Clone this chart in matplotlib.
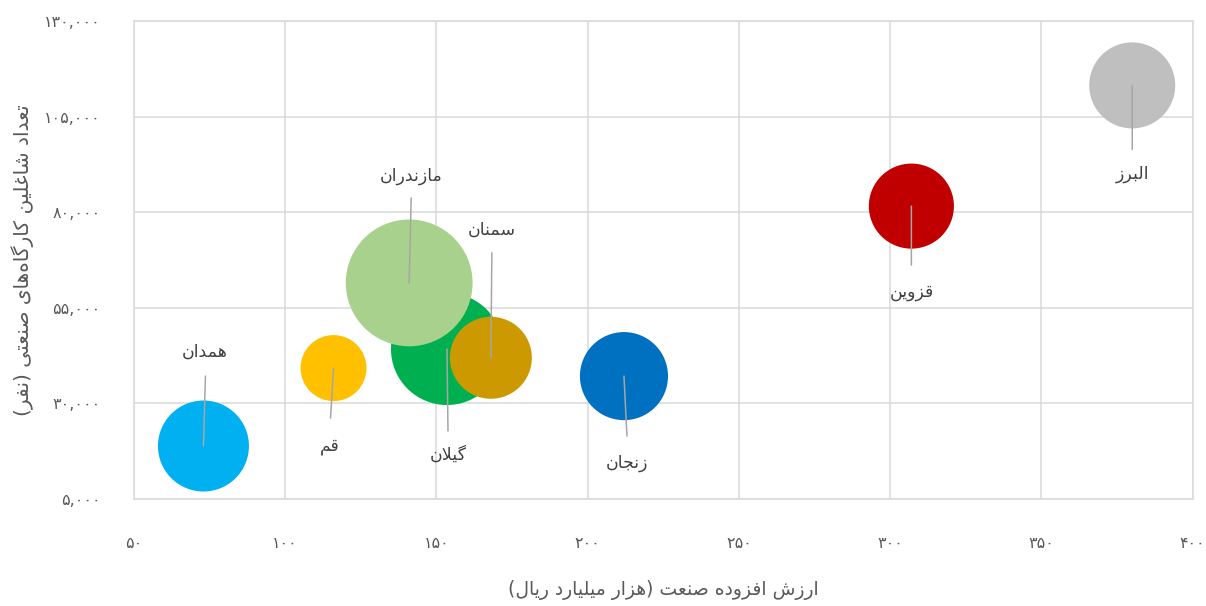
import matplotlib
matplotlib.use("Agg")
import matplotlib.pyplot as plt
from matplotlib.ticker import FuncFormatter, FixedLocator

plt.rcParams["font.family"] = ["DejaVu Sans"]

# ---- داده‌ها (خوانده شده از نمودار) ----
provinces = ["همدان", "قم", "گیلان", "مازندران", "سمنان", "زنجان", "قزوین", "البرز"]
value_added = [73, 116, 153.5, 141, 168, 212, 307, 380]          # هزار میلیارد ریال
employees = [18800, 39200, 44200, 61500, 41900, 37100, 81600, 113200]  # نفر
bubble_size = [2070, 1090, 3140, 4020, 1680, 1940, 1810, 1850]
colors = ["#00B0F0", "#FFC000", "#00B050", "#A9D18E", "#CC9900",
          "#0070C0", "#C00000", "#BFBFBF"]

x_ticks = [50, 100, 150, 200, 250, 300, 350, 400]
y_ticks = [5000, 30000, 55000, 80000, 105000, 130000]
x_title = "ارزش افزوده صنعت (هزار میلیارد ریال)"
y_title = "تعداد شاغلین کارگاه\u200cهای صنعتی (نفر)"

# جای برچسب‌ها نسبت به مرکز حباب، پیکسل (y رو به پایین):
# (انتهای خط dx, dy, برچسب dx, dy)
label_layout = [(2, -70, 1, -94), (-3, 50, -4, 78), (1, 82, 1, 106),
                (2, -85, 2, -107), (1, -105, 1, -128), (3, 60, 3, 87),
                (0, 59, 0, 86), (0, 64, 0, 89)]

# ---- شکل‌دهی ساده‌ی حروف فارسی (matplotlib اتصال حروف را انجام نمی‌دهد) ----
FORMS = {  # isolated, final, initial, medial
    "ا": "\uFE8D\uFE8E", "د": "\uFEA9\uFEAA", "ر": "\uFEAD\uFEAE",
    "ز": "\uFEAF\uFEB0", "و": "\uFEED\uFEEE",
    "ب": "\uFE8F\uFE90\uFE91\uFE92", "ت": "\uFE95\uFE96\uFE97\uFE98",
    "ج": "\uFE9D\uFE9E\uFE9F\uFEA0", "س": "\uFEB1\uFEB2\uFEB3\uFEB4",
    "ش": "\uFEB5\uFEB6\uFEB7\uFEB8", "ص": "\uFEB9\uFEBA\uFEBB\uFEBC",
    "ع": "\uFEC9\uFECA\uFECB\uFECC", "غ": "\uFECD\uFECE\uFECF\uFED0",
    "ف": "\uFED1\uFED2\uFED3\uFED4", "ق": "\uFED5\uFED6\uFED7\uFED8",
    "ل": "\uFEDD\uFEDE\uFEDF\uFEE0", "م": "\uFEE1\uFEE2\uFEE3\uFEE4",
    "ن": "\uFEE5\uFEE6\uFEE7\uFEE8", "ه": "\uFEE9\uFEEA\uFEEB\uFEEC",
    "ی": "\uFEEF\uFEF0\uFEF3\uFEF4", "ک": "\uFB8E\uFB8F\uFB90\uFB91",
    "گ": "\uFB92\uFB93\uFB94\uFB95",
}


def dual(c):
    return c in FORMS and len(FORMS[c]) == 4


def shape_fa(text):
    out = []
    i = 0
    n = len(text)
    while i < n:
        c = text[i]
        if c not in FORMS:
            if c != "\u200c":
                out.append(c)
            i += 1
            continue
        prev = text[i - 1] if i > 0 else ""
        nxt = text[i + 1] if i + 1 < n else ""
        jp = dual(prev)
        if c == "ل" and nxt == "ا":
            out.append("\uFEFC" if jp else "\uFEFB")
            i += 2
            continue
        jn = dual(c) and nxt in FORMS
        f = FORMS[c]
        if jp and jn:
            g = f[3]
        elif jp:
            g = f[1]
        elif jn:
            g = f[2]
        else:
            g = f[0]
        out.append(g)
        i += 1
    vis = "".join(reversed(out))
    return vis.translate(str.maketrans("()", ")("))


FA_DIGITS = str.maketrans("0123456789", "۰۱۲۳۴۵۶۷۸۹")


def fa_num(v, pos=None):
    return f"{v:,.0f}".translate(FA_DIGITS)


fig = plt.figure(figsize=(12.06, 6.06), dpi=100)
ax = fig.add_axes([0.111, 0.177, 0.878, 0.788])

grid_c = "#D9D9D9"
ax.set_xlim(x_ticks[0], x_ticks[-1])
ax.set_ylim(y_ticks[0], y_ticks[-1])
ax.xaxis.set_major_locator(FixedLocator(x_ticks))
ax.yaxis.set_major_locator(FixedLocator(y_ticks))
ax.xaxis.set_major_formatter(FuncFormatter(fa_num))
ax.yaxis.set_major_formatter(FuncFormatter(fa_num))
ax.grid(True, color=grid_c, lw=1.1, zorder=0)
ax.set_axisbelow(True)
for s in ax.spines.values():
    s.set_color(grid_c)
    s.set_linewidth(1.1)
ax.tick_params(length=0, labelsize=11.5, labelcolor="#595959")
ax.tick_params(axis="y", pad=24)
ax.tick_params(axis="x", pad=27)

# قطر نشانگر بر حسب point: r_px = sqrt(size) ، d_pt = 2 * r_px * 0.72
sizes = [b * (2 * 0.72) ** 2 for b in bubble_size]
for x, y, s, c in zip(value_added, employees, sizes, colors):
    ax.scatter([x], [y], s=s, color=c, edgecolors="none", zorder=3)

for name, x, y, (lx, ly, tx, ty) in zip(provinces, value_added, employees,
                                        label_layout):
    ax.annotate("", xy=(x, y), xytext=(lx, -ly), textcoords="offset pixels",
                arrowprops=dict(arrowstyle="-", color="#A6A6A6", lw=1.1,
                                patchA=None, shrinkA=0, shrinkB=0),
                zorder=5, annotation_clip=False)
    ax.annotate(shape_fa(name), xy=(x, y), xytext=(tx, -ty),
                textcoords="offset pixels", ha="center", va="center",
                fontsize=12.5, color="#404040", zorder=6)

ax.set_xlabel(shape_fa(x_title), fontsize=13.5, color="#595959", labelpad=21)
ax.set_ylabel(shape_fa(y_title), fontsize=14.5, color="#595959", labelpad=7)

fig.savefig("out.png", dpi=100, facecolor="white")
